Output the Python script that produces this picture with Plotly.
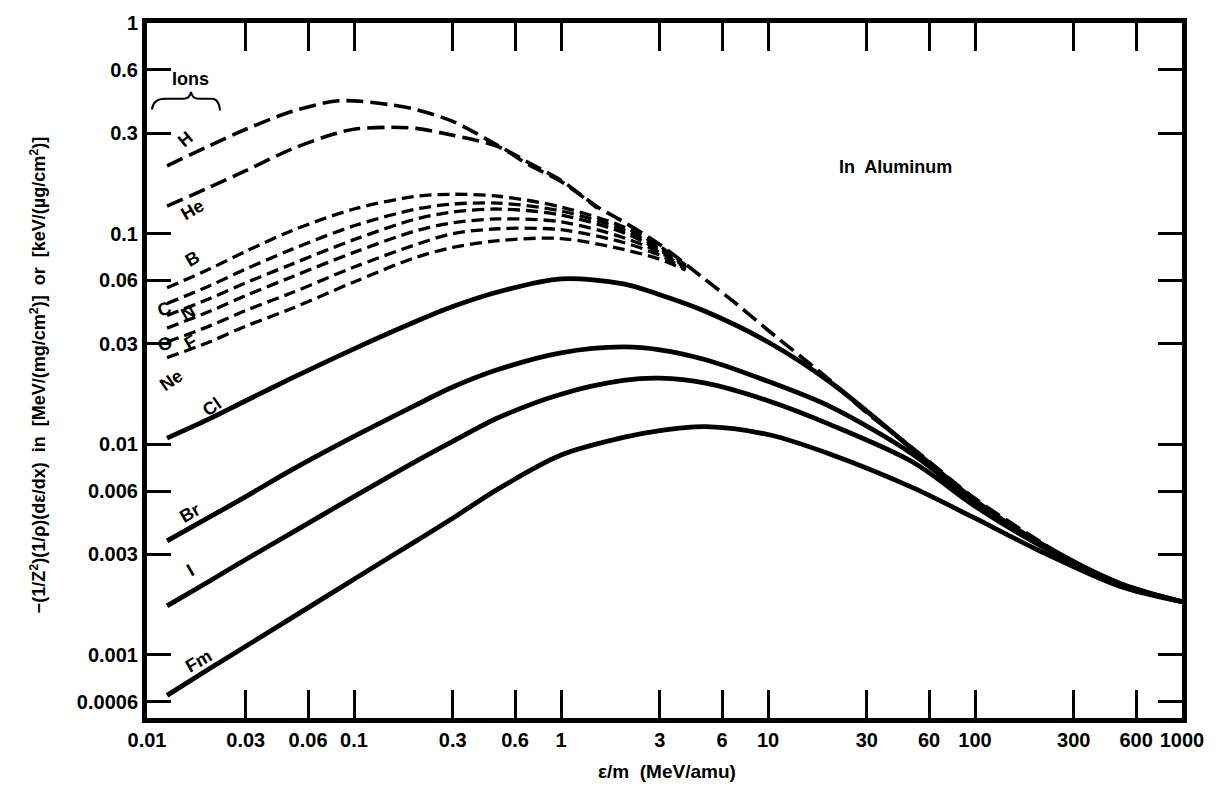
import numpy as np
import plotly.graph_objects as go

# ---------------- data ----------------
# energy per nucleon, MeV/amu
x_h = [0.0125, 0.02, 0.03, 0.05, 0.08, 0.1, 0.15, 0.2, 0.3, 0.5, 0.7, 1, 1.5, 2, 3,
       5, 7, 10, 20, 30, 50, 100, 200, 300, 500, 1000]
y_h = [0.210, 0.261, 0.313, 0.380, 0.425, 0.427, 0.409, 0.388, 0.341, 0.261, 0.217,
       0.179, 0.134, 0.114, 0.0889, 0.0603, 0.0466, 0.0348, 0.0201, 0.0141, 0.00960,
       0.00553, 0.00352, 0.00275, 0.00219, 0.00179]

x_he = [0.0125, 0.02, 0.03, 0.05, 0.08, 0.1, 0.15, 0.2, 0.3, 0.5, 0.7, 1, 1.5]
y_he = [0.135, 0.166, 0.199, 0.252, 0.297, 0.313, 0.320, 0.316, 0.293, 0.258, 0.212,
        0.177, 0.132]

x_mid = [0.0125, 0.02, 0.03, 0.05, 0.1, 0.2, 0.3, 0.5, 1, 2, 3, 4]
y_b = [0.0553, 0.0679, 0.0824, 0.1033, 0.1309, 0.1505, 0.1538, 0.1505, 0.1338, 0.1078, 0.0870, 0.0709]
y_c = [0.0466, 0.0565, 0.0679, 0.0842, 0.1090, 0.1309, 0.1381, 0.1396, 0.1281, 0.1044, 0.0851, 0.0701]
y_n = [0.0409, 0.0491, 0.0584, 0.0716, 0.0937, 0.1175, 0.1267, 0.1309, 0.1227, 0.1011, 0.0833, 0.0694]
y_o = [0.0356, 0.0427, 0.0508, 0.0623, 0.0815, 0.1033, 0.1126, 0.1175, 0.1138, 0.0958, 0.0815, 0.0686]
y_f = [0.0306, 0.0364, 0.0432, 0.0524, 0.0694, 0.0889, 0.1000, 0.1055, 0.1044, 0.0908, 0.0789, 0.0679]
y_ne = [0.0258, 0.0306, 0.0364, 0.0441, 0.0590, 0.0773, 0.0860, 0.0927, 0.0948, 0.0842, 0.0756, 0.0672]

x_heavy = [0.0125, 0.02, 0.03, 0.05, 0.1, 0.2, 0.3, 0.5, 1, 2, 3, 5, 10, 20, 50, 100, 200, 500, 1000]
y_cl = [0.0107, 0.0132, 0.0161, 0.0206, 0.0284, 0.0384, 0.0451, 0.0530, 0.0610, 0.0578, 0.0513,
        0.0427, 0.0306, 0.0197, 0.00947, 0.00542, 0.00345, 0.00219, 0.00179]
y_br = [0.00348, 0.00451, 0.00565, 0.00756, 0.0109, 0.0154, 0.0187, 0.0227, 0.0272, 0.0290, 0.0281,
        0.0252, 0.0199, 0.0151, 0.00898, 0.00530, 0.00345, 0.00217, 0.00179]
y_i = [0.00171, 0.00224, 0.00284, 0.00380, 0.00565, 0.00833, 0.01033, 0.0134, 0.0173, 0.0201, 0.0206,
       0.0195, 0.0161, 0.0124, 0.00824, 0.00508, 0.00337, 0.00217, 0.00179]
y_fm = [0.000643, 0.000860, 0.00110, 0.00150, 0.00229, 0.00348, 0.00446, 0.00616, 0.00889, 0.01078,
        0.01162, 0.01214, 0.01113, 0.00898, 0.00623, 0.00446, 0.00316, 0.00212, 0.00179]

x_ticks = [0.01, 0.03, 0.06, 0.1, 0.3, 0.6, 1, 3, 6, 10, 30, 60, 100, 300, 600, 1000]
x_ticktext = ["0.01", "0.03", "0.06", "0.1", "0.3", "0.6", "1", "3", "6", "10", "30", "60",
              "100", "300", "600", "1000"]
y_ticks = [0.0006, 0.001, 0.003, 0.006, 0.01, 0.03, 0.06, 0.1, 0.3, 0.6, 1]
y_ticktext = ["0.0006", "0.001", "0.003", "0.006", "0.01", "0.03", "0.06", "0.1", "0.3", "0.6", "1"]

# ion labels: (text, x, y, angle)
ion_labels = [
    ("H", 0.0154, 0.281, -40), ("He", 0.0165, 0.1295, -30), ("B", 0.0165, 0.0756, -30),
    ("C", 0.0122, 0.0437, -20), ("N", 0.0158, 0.0418, -30), ("O", 0.0122, 0.0300, -20),
    ("F", 0.0163, 0.0306, -30), ("Ne", 0.0132, 0.0201, -35), ("Cl", 0.0206, 0.01505, -35),
    ("Br", 0.0161, 0.00471, -30), ("I", 0.0163, 0.00252, -30), ("Fm", 0.0178, 0.000938, -30),
]

# ---------------- figure ----------------
FONT = "Liberation Sans, Arial, sans-serif"
fig = go.Figure()

def add(x, y, dash, width):
    fig.add_trace(go.Scatter(x=x, y=y, mode="lines",
                             line=dict(color="black", width=width, dash=dash,
                                       shape="spline", smoothing=0.9),
                             hoverinfo="skip", showlegend=False))

add(x_h, y_h, "17px,7px", 3.6)
add(x_he, y_he, "17px,7px", 3.6)
for yy in (y_b, y_c, y_n, y_o, y_f, y_ne):
    add(x_mid, yy, "12px,6px", 3.3)
for yy in (y_cl, y_br, y_i, y_fm):
    add(x_heavy, yy, "solid", 4.8)

def bold(s):
    return "<b>" + s + "</b>"

ann = []
for txt, lx, ly, ang in ion_labels:
    ann.append(dict(text=bold(txt), x=np.log10(lx), y=np.log10(ly), xref="x", yref="y",
                    showarrow=False, textangle=ang, xanchor="center", yanchor="middle",
                    font=dict(family=FONT, size=18, color="black")))
ann.append(dict(text=bold("Ions"), x=np.log10(0.0163), y=np.log10(0.542), xref="x", yref="y",
                showarrow=False, xanchor="center", yanchor="middle",
                font=dict(family=FONT, size=18, color="black")))
ann.append(dict(text=bold("In  Aluminum"), x=np.log10(41.1), y=np.log10(0.208), xref="x", yref="y",
                showarrow=False, xanchor="center", yanchor="middle",
                font=dict(family=FONT, size=18, color="black")))
ann.append(dict(text=bold("ε/m  (MeV/amu)"), x=0.5024, y=-0.0765, xref="paper", yref="paper",
                showarrow=False, xanchor="center", yanchor="middle",
                font=dict(family=FONT, size=19, color="black")))
ann.append(dict(text=bold("−(1/Z<sup>2</sup>)(1/ρ)(dε/dx)  in  [MeV/(mg/cm<sup>2</sup>)]  or  [keV/(µg/cm<sup>2</sup>)]"),
                x=-0.1053, y=0.493, xref="paper", yref="paper", textangle=-90,
                xanchor="center", yanchor="middle",
                showarrow=False, font=dict(family=FONT, size=18, color="black")))

brace = ("M 0.0048,0.8754 Q 0.0058,0.8909 0.0174,0.8909 L 0.0348,0.8909 "
         "Q 0.0416,0.8909 0.0425,0.9008 Q 0.0435,0.8909 0.0502,0.8909 "
         "L 0.0628,0.8909 Q 0.0696,0.8909 0.0705,0.8739")

tickfont = dict(family=FONT, size=20, color="black", weight="bold")

fig.update_layout(
    width=1224, height=794, autosize=False,
    margin=dict(l=147, r=42, t=12, b=76),
    paper_bgcolor="white", plot_bgcolor="white",
    showlegend=False,
    annotations=ann,
    shapes=[dict(type="path", path=brace, xref="paper", yref="paper",
                 line=dict(color="black", width=2))],
    xaxis=dict(type="log", range=[-2, 3], tickvals=x_ticks, ticktext=x_ticktext,
               showgrid=False, zeroline=False, showline=True, linecolor="black", linewidth=5,
               mirror="allticks", ticks="inside", ticklen=28, tickwidth=3, tickcolor="black",
               tickfont=tickfont),
    yaxis=dict(type="log", range=[-3.2991, 0], tickvals=y_ticks, ticktext=y_ticktext,
               showgrid=False, zeroline=False, showline=True, linecolor="black", linewidth=5,
               mirror="allticks", ticks="inside", ticklen=24, tickwidth=3, tickcolor="black",
               tickfont=tickfont),
)

fig.write_html("out.html")
